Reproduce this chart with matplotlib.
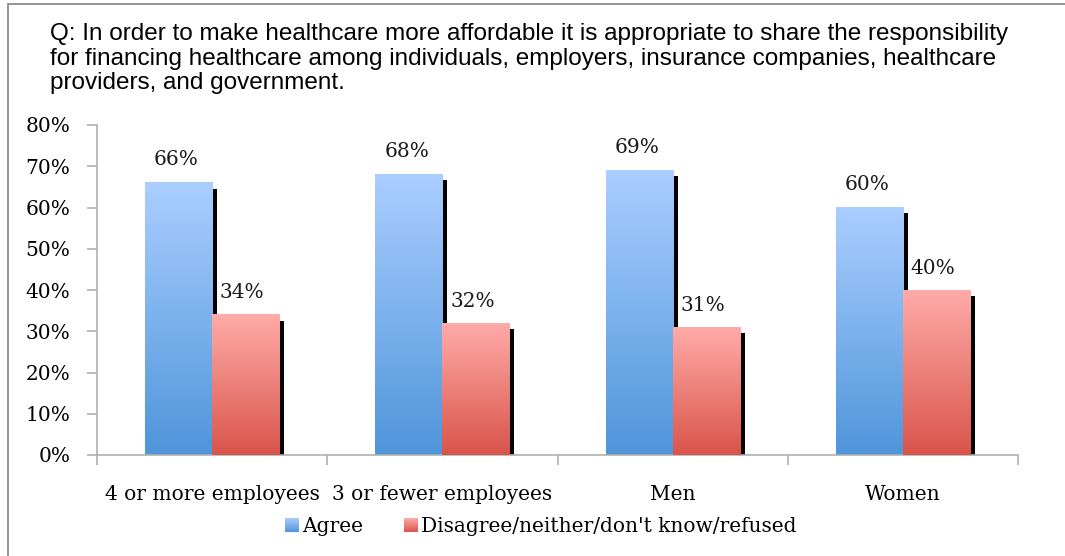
import numpy as np
import matplotlib
matplotlib.use("Agg")
import matplotlib.pyplot as plt
from matplotlib.patches import Rectangle
from matplotlib.legend_handler import HandlerBase
from matplotlib.image import BboxImage
from matplotlib.transforms import Bbox, TransformedBbox
from matplotlib.colors import LinearSegmentedColormap

# Survey data
categories = ["4 or more employees", "3 or fewer employees", "Men", "Women"]
agree = [66, 68, 69, 60]
disagree = [34, 32, 31, 40]
series_names = ["Agree", "Disagree/neither/don't know/refused"]
y_ticks = [0, 10, 20, 30, 40, 50, 60, 70, 80]
question = ("Q: In order to make healthcare more affordable it is appropriate to share the responsibility\n"
            "for financing healthcare among individuals, employers, insurance companies, healthcare\n"
            "providers, and government.")

serif = ["DejaVu Serif"]
sans = ["Liberation Sans", "DejaVu Sans"]
FS = 14.5

blue_cmap = LinearSegmentedColormap.from_list("blue", ["#4F95DA", "#AACEFF"])
red_cmap = LinearSegmentedColormap.from_list("red", ["#D9544A", "#FFABA8"])
grad = np.linspace(0, 1, 256).reshape(-1, 1)

fig = plt.figure(figsize=(10.65, 5.56), dpi=100)
ax = fig.add_axes([97 / 1065, 1 - 455 / 556, (1018 - 97) / 1065, (455 - 125) / 556])

# Outer chart frame
fig.patches.append(Rectangle((8 / 1065, -0.1), 1.2, 1 - 3.5 / 556 + 0.1,
                             transform=fig.transFigure, fill=False,
                             edgecolor="#8C8C8C", linewidth=1.3))

bar_w = 0.291
shadow_w = 0.022
shadow_drop = 1.45
x = np.arange(len(categories))


def gradient_bar(xl, h, cmap, z):
    ax.imshow(grad, cmap=cmap, origin="lower", aspect="auto",
              extent=(xl, xl + bar_w, 0, h), zorder=z, interpolation="bicubic")


for i in range(len(categories)):
    xa = x[i] - bar_w
    xd = x[i]
    # drop shadows on the right of each bar
    ax.bar(xa + bar_w, agree[i] - shadow_drop, width=shadow_w, align="edge",
           color="black", zorder=1)
    ax.bar(xd + bar_w, disagree[i] - shadow_drop, width=shadow_w, align="edge",
           color="black", zorder=1)
    gradient_bar(xa, agree[i], blue_cmap, 2)
    gradient_bar(xd, disagree[i], red_cmap, 3)
    ax.text(xa + bar_w / 2 - 0.01, agree[i] + 5.6, f"{agree[i]}%", ha="center",
            va="center", fontsize=FS, family=serif, color="#1a1a1a")
    ax.text(xd + bar_w / 2 - 0.015, disagree[i] + 5.3, f"{disagree[i]}%", ha="center",
            va="center", fontsize=FS, family=serif, color="#1a1a1a")

ax.set_xlim(-0.5, len(categories) - 0.5)
ax.set_ylim(0, 80)
ax.set_yticks(y_ticks)
ax.set_yticklabels([f"{t}%" for t in y_ticks], family=serif, fontsize=FS)
ax.set_xticks(x)
ax.set_xticklabels(categories, family=serif, fontsize=FS)
ax.set_xticks(np.arange(-0.5, len(categories)), minor=True)
ax.tick_params(axis="x", which="major", length=0, pad=21.5)
ax.tick_params(axis="x", which="minor", length=7, color="#B0B0B0", width=1.2)
ax.tick_params(axis="y", length=7, color="#B0B0B0", width=1.2, pad=12)
for s in ["top", "right"]:
    ax.spines[s].set_visible(False)
for s in ["left", "bottom"]:
    ax.spines[s].set_color("#B0B0B0")
    ax.spines[s].set_linewidth(1.2)


class GradientHandler(HandlerBase):
    def __init__(self, cmap):
        super().__init__()
        self.cmap = cmap

    def create_artists(self, legend, orig_handle, xdescent, ydescent, width,
                       height, fontsize, trans):
        bb = Bbox.from_bounds(-xdescent, -ydescent, width, height)
        img = BboxImage(TransformedBbox(bb, trans), cmap=self.cmap,
                        origin="lower", interpolation="bicubic")
        img.set_data(grad)
        return [img]


h1 = Rectangle((0, 0), 1, 1)
h2 = Rectangle((0, 0), 1, 1)
fig.legend([h1, h2], series_names, loc="center", bbox_to_anchor=(541 / 1065, 1 - 527 / 556),
           ncol=2, frameon=False, prop={"family": serif, "size": FS},
           handlelength=0.65, handleheight=0.65, handletextpad=0.2, columnspacing=2.0,
           handler_map={h1: GradientHandler(blue_cmap), h2: GradientHandler(red_cmap)})

fig.text(50 / 1065, 1 - 23 / 556, question, ha="left", va="top", fontsize=17.5,
         family=sans, linespacing=1.15, color="black")

fig.savefig("out.png", dpi=100)
